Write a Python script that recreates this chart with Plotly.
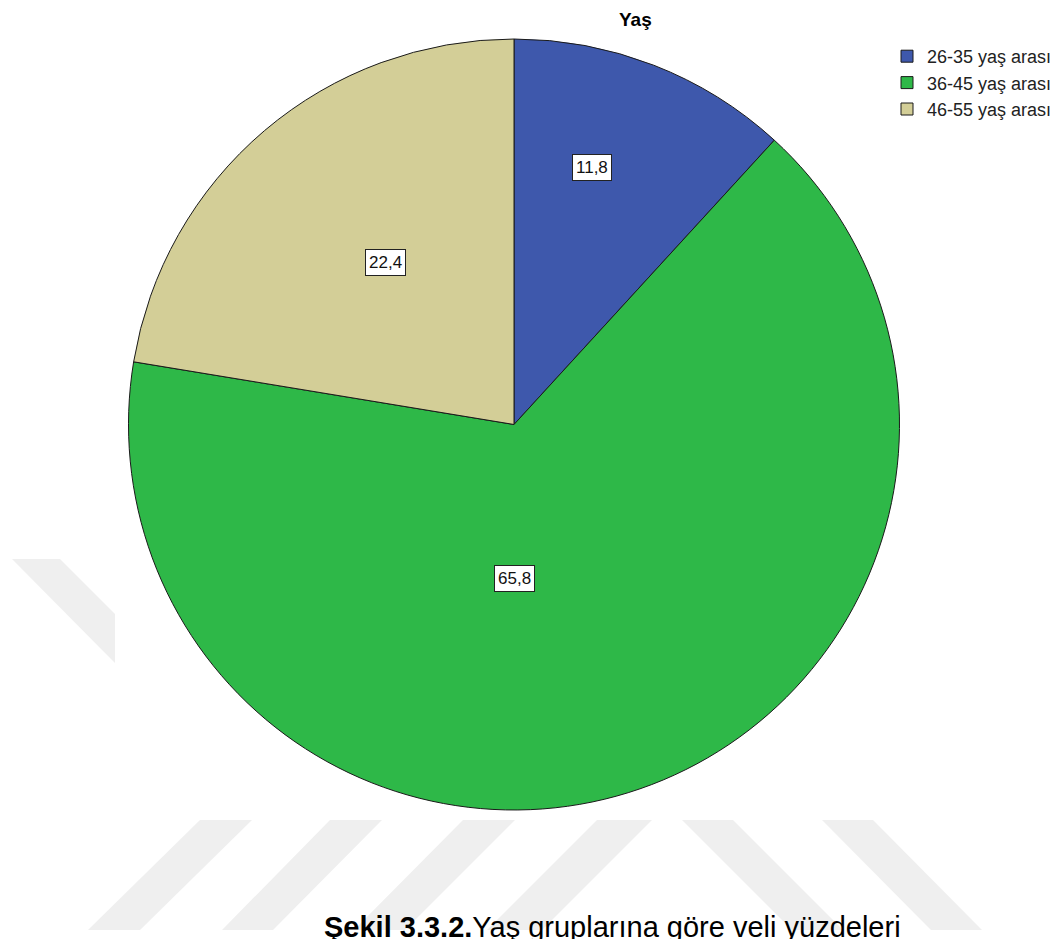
import plotly.graph_objects as go

# ---- data ----
categories = ["26-35 yaş arası", "36-45 yaş arası", "46-55 yaş arası"]
percentages = [11.8, 65.8, 22.4]
colors = ["#3E58AC", "#2EB848", "#D3CE97"]
title_text = "Yaş"
caption_bold = "Şekil 3.3.2."
caption_rest = "Yaş gruplarına göre veli yüzdeleri"

# page has an 8px body margin; the figure is sized so it ends at the window edge
OFF = 8
W, H = 1061 - OFF, 939 - OFF


def px(x):
    return (x - OFF) / W


def py(y):
    return 1 - (y - OFF) / H


fig = go.Figure()
fig.add_trace(go.Pie(
    labels=categories,
    values=percentages,
    sort=False,
    direction="clockwise",
    rotation=0,
    textinfo="none",
    hoverinfo="label+value",
    marker=dict(colors=colors, line=dict(color="#1a1a1a", width=1)),
    domain=dict(x=[px(128), px(900)], y=[py(810), py(39)]),
    showlegend=True,
))

# value labels (boxed)
label_pos = [(592, 167), (514, 578), (385, 262)]
annotations = []
for v, (lx, ly) in zip(percentages, label_pos):
    annotations.append(dict(
        x=px(lx), y=py(ly), xref="paper", yref="paper",
        text=f"{v:.1f}".replace(".", ","), showarrow=False,
        font=dict(family="Liberation Sans, Arial", size=17, color="#111111"),
        bgcolor="white", bordercolor="#222222", borderwidth=1, borderpad=3,
        xanchor="center", yanchor="middle",
    ))

annotations.append(dict(
    x=px(635), y=py(20), xref="paper", yref="paper",
    text=f"<b>{title_text}</b>", showarrow=False,
    font=dict(family="Liberation Sans, Arial", size=19, color="#000000"),
    xanchor="center", yanchor="middle",
))

annotations.append(dict(
    x=px(322), y=py(909), xref="paper", yref="paper",
    text=f"<b>{caption_bold}</b>{caption_rest}", showarrow=False,
    font=dict(family="Liberation Sans, Arial", size=29, color="#000000"),
    xanchor="left", yanchor="top",
))

# faint watermark stripes
wm_polys = [
    [(12, 559), (60, 559), (115, 614), (115, 663)],
    [(200, 820), (252, 820), (140, 930), (88, 930)],
    [(330, 820), (382, 820), (273, 930), (222, 930)],
    [(463, 820), (515, 820), (405, 930), (354, 930)],
    [(597, 820), (652, 820), (542, 930), (487, 930)],
    [(682, 820), (733, 820), (843, 930), (792, 930)],
    [(822, 820), (873, 820), (982, 930), (931, 930)],
]
shapes = []
for poly in wm_polys:
    path = "M " + " L ".join(f"{px(x):.5f},{py(y):.5f}" for x, y in poly) + " Z"
    shapes.append(dict(type="path", path=path, xref="paper", yref="paper",
                       fillcolor="#EFEFEF", line=dict(width=0), layer="below"))

fig.update_layout(
    width=W, height=H,
    margin=dict(l=0, r=0, t=0, b=0),
    paper_bgcolor="white", plot_bgcolor="white",
    annotations=annotations,
    shapes=shapes,
    legend=dict(
        x=px(887), y=py(38), xanchor="left", yanchor="top",
        font=dict(family="Liberation Sans, Arial", size=18, color="#222222"),
        bgcolor="rgba(0,0,0,0)", tracegroupgap=0,
    ),
)

fig.write_html("out.html")
